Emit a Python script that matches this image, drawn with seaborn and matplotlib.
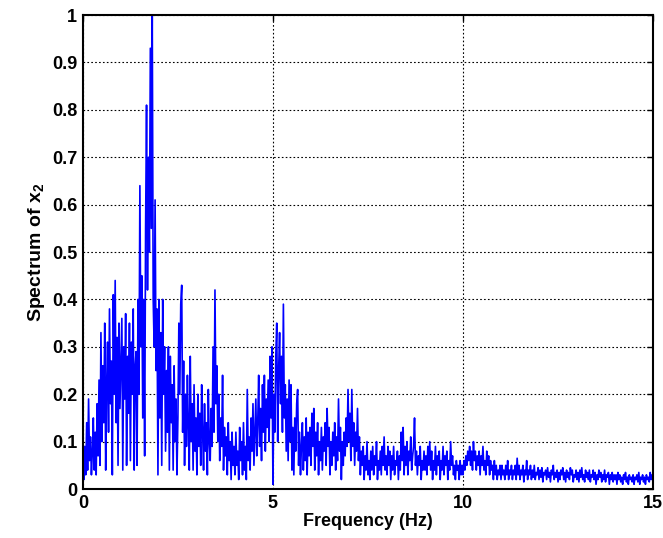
import matplotlib
matplotlib.use("Agg")
import matplotlib.pyplot as plt
import numpy as np
import pandas as pd
import seaborn as sns

# spectrum magnitude, one list per 1 Hz band, bins every 0.025 Hz
FREQ_STEP = 0.025
band_00 = [0.05, 0.02, 0.09, 0.03, 0.14, 0.04, 0.19, 0.06, 0.11, 0.03, 0.08, 0.15, 0.04, 0.12, 0.03, 0.18, 0.07, 0.23, 0.05, 0.33,
           0.10, 0.26, 0.14, 0.35, 0.04, 0.22, 0.31, 0.12, 0.38, 0.18, 0.27, 0.03, 0.41, 0.20, 0.44, 0.14, 0.32, 0.05, 0.35, 0.17]
band_01 = [0.26, 0.36, 0.04, 0.30, 0.19, 0.37, 0.05, 0.28, 0.16, 0.35, 0.06, 0.31, 0.20, 0.38, 0.04, 0.26, 0.29, 0.05, 0.40, 0.20,
           0.64, 0.30, 0.45, 0.15, 0.40, 0.07, 0.55, 0.81, 0.42, 0.70, 0.50, 0.93, 0.55, 1.00, 0.40, 0.30, 0.61, 0.25, 0.38, 0.03]
band_02 = [0.40, 0.15, 0.33, 0.05, 0.40, 0.20, 0.30, 0.08, 0.25, 0.12, 0.30, 0.04, 0.28, 0.14, 0.22, 0.04, 0.26, 0.10, 0.19, 0.03,
           0.15, 0.35, 0.20, 0.39, 0.43, 0.12, 0.27, 0.05, 0.20, 0.09, 0.24, 0.13, 0.04, 0.28, 0.10, 0.18, 0.04, 0.22, 0.08, 0.15]
band_03 = [0.03, 0.20, 0.09, 0.16, 0.05, 0.22, 0.12, 0.04, 0.18, 0.08, 0.14, 0.03, 0.21, 0.10, 0.06, 0.17, 0.09, 0.30, 0.12, 0.42,
           0.18, 0.26, 0.10, 0.20, 0.06, 0.15, 0.09, 0.24, 0.04, 0.13, 0.07, 0.11, 0.03, 0.14, 0.06, 0.10, 0.02, 0.12, 0.05, 0.09]
band_04 = [0.03, 0.12, 0.05, 0.08, 0.02, 0.13, 0.06, 0.10, 0.03, 0.14, 0.04, 0.09, 0.02, 0.21, 0.06, 0.11, 0.04, 0.15, 0.08, 0.18,
           0.05, 0.12, 0.19, 0.07, 0.14, 0.24, 0.09, 0.17, 0.06, 0.22, 0.12, 0.24, 0.08, 0.19, 0.13, 0.23, 0.10, 0.28, 0.15, 0.30]
band_05 = [0.01, 0.20, 0.12, 0.28, 0.35, 0.10, 0.25, 0.33, 0.18, 0.28, 0.12, 0.39, 0.15, 0.22, 0.08, 0.19, 0.06, 0.23, 0.10, 0.22,
           0.04, 0.13, 0.03, 0.15, 0.08, 0.18, 0.21, 0.05, 0.12, 0.03, 0.09, 0.14, 0.04, 0.11, 0.06, 0.15, 0.03, 0.12, 0.07, 0.13]
band_06 = [0.05, 0.16, 0.09, 0.17, 0.04, 0.12, 0.07, 0.14, 0.03, 0.10, 0.06, 0.13, 0.04, 0.11, 0.08, 0.14, 0.05, 0.17, 0.09, 0.13,
           0.03, 0.10, 0.05, 0.12, 0.07, 0.14, 0.04, 0.11, 0.06, 0.19, 0.08, 0.13, 0.02, 0.10, 0.05, 0.12, 0.07, 0.15, 0.09, 0.21]
band_07 = [0.10, 0.16, 0.06, 0.21, 0.09, 0.14, 0.05, 0.12, 0.08, 0.17, 0.06, 0.11, 0.03, 0.08, 0.05, 0.09, 0.02, 0.07, 0.04, 0.10,
           0.03, 0.06, 0.02, 0.08, 0.04, 0.09, 0.03, 0.07, 0.05, 0.10, 0.02, 0.06, 0.04, 0.08, 0.03, 0.09, 0.05, 0.11, 0.04, 0.07]
band_08 = [0.03, 0.09, 0.05, 0.08, 0.02, 0.07, 0.04, 0.09, 0.03, 0.06, 0.05, 0.08, 0.02, 0.07, 0.04, 0.12, 0.06, 0.13, 0.03, 0.09,
           0.05, 0.10, 0.03, 0.08, 0.06, 0.11, 0.04, 0.07, 0.09, 0.15, 0.05, 0.08, 0.03, 0.07, 0.05, 0.09, 0.02, 0.06, 0.04, 0.08]
band_09 = [0.04, 0.07, 0.03, 0.09, 0.05, 0.10, 0.04, 0.08, 0.02, 0.06, 0.04, 0.09, 0.03, 0.07, 0.05, 0.08, 0.02, 0.06, 0.04, 0.09,
           0.03, 0.07, 0.05, 0.08, 0.02, 0.06, 0.04, 0.10, 0.05, 0.07, 0.03, 0.05, 0.02, 0.06, 0.04, 0.05, 0.02, 0.06, 0.03, 0.05]
band_10 = [0.03, 0.06, 0.04, 0.07, 0.05, 0.08, 0.06, 0.09, 0.05, 0.08, 0.04, 0.10, 0.06, 0.08, 0.04, 0.07, 0.05, 0.08, 0.03, 0.07,
           0.05, 0.09, 0.04, 0.06, 0.03, 0.08, 0.05, 0.07, 0.03, 0.06, 0.04, 0.05, 0.02, 0.06, 0.03, 0.05, 0.02, 0.04, 0.03, 0.05]
band_11 = [0.02, 0.05, 0.03, 0.04, 0.02, 0.05, 0.03, 0.06, 0.02, 0.04, 0.03, 0.05, 0.02, 0.04, 0.03, 0.05, 0.02, 0.065, 0.03, 0.05,
           0.02, 0.04, 0.03, 0.05, 0.015, 0.04, 0.03, 0.06, 0.02, 0.04, 0.03, 0.05, 0.02, 0.04, 0.025, 0.05, 0.02, 0.035, 0.03, 0.045]
band_12 = [0.02, 0.04, 0.025, 0.045, 0.015, 0.035, 0.03, 0.04, 0.02, 0.045, 0.025, 0.035, 0.015, 0.04, 0.03, 0.05, 0.02, 0.035, 0.025, 0.04,
           0.015, 0.035, 0.02, 0.04, 0.03, 0.045, 0.02, 0.035, 0.015, 0.04, 0.025, 0.035, 0.02, 0.045, 0.03, 0.04, 0.015, 0.03, 0.025, 0.04]
band_13 = [0.02, 0.035, 0.015, 0.04, 0.025, 0.045, 0.02, 0.03, 0.015, 0.04, 0.025, 0.035, 0.02, 0.04, 0.015, 0.03, 0.025, 0.04, 0.02, 0.035,
           0.01, 0.03, 0.02, 0.04, 0.025, 0.035, 0.015, 0.03, 0.02, 0.04, 0.015, 0.03, 0.025, 0.035, 0.01, 0.03, 0.02, 0.035, 0.015, 0.03]
band_14 = [0.02, 0.03, 0.01, 0.035, 0.02, 0.03, 0.015, 0.025, 0.01, 0.03, 0.02, 0.035, 0.015, 0.025, 0.01, 0.03, 0.02, 0.025, 0.015, 0.03,
           0.01, 0.025, 0.02, 0.03, 0.015, 0.035, 0.01, 0.025, 0.02, 0.03, 0.015, 0.025, 0.01, 0.03, 0.02, 0.025, 0.015, 0.035, 0.02, 0.03]
last_bin = [0.02]

x_ticks = [0, 5, 10, 15]
y_ticks = [0, 0.1, 0.2, 0.3, 0.4, 0.5, 0.6, 0.7, 0.8, 0.9, 1]
y_tick_labels = ["0", "0.1", "0.2", "0.3", "0.4", "0.5", "0.6", "0.7", "0.8", "0.9", "1"]

bands = [band_00, band_01, band_02, band_03, band_04, band_05, band_06, band_07,
         band_08, band_09, band_10, band_11, band_12, band_13, band_14, last_bin]
spectrum = np.concatenate(bands)
freq = np.arange(len(spectrum)) * FREQ_STEP
df = pd.DataFrame({"freq": freq, "spectrum": spectrum})

sns.set_theme(style="white")
plt.rcParams["font.family"] = ["Liberation Sans", "DejaVu Sans"]
plt.rcParams["font.weight"] = "bold"
plt.rcParams["mathtext.fontset"] = "custom"
plt.rcParams["mathtext.bf"] = "Liberation Sans:bold"
plt.rcParams["mathtext.rm"] = "Liberation Sans:bold"
plt.rcParams["mathtext.default"] = "bf"

fig = plt.figure(figsize=(6.63, 5.38), dpi=100)
ax = fig.add_axes([0.125, 0.091, 0.86, 0.881])
sns.lineplot(data=df, x="freq", y="spectrum", ax=ax, color="#0000ff",
             linewidth=1.2, estimator=None, sort=False)

ax.set_xlim(0, 15)
ax.set_ylim(0, 1)
ax.set_xticks(x_ticks)
ax.set_xticklabels([str(t) for t in x_ticks])
ax.set_yticks(y_ticks)
ax.set_yticklabels(y_tick_labels)
ax.tick_params(direction="in", length=4, width=1, top=True, right=True,
               labelsize=13, colors="black", pad=4)
for lab in ax.get_xticklabels() + ax.get_yticklabels():
    lab.set_fontweight("bold")

ax.grid(True, color="black", linestyle=(0, (1.5, 2)), linewidth=0.8)
for side in ax.spines.values():
    side.set_visible(True)
    side.set_color("black")
    side.set_linewidth(1.5)

ax.set_xlabel("Frequency (Hz)", fontsize=13, fontweight="bold", color="black", labelpad=1)
ax.set_ylabel(r"Spectrum of x$_{2}$", fontsize=14, fontweight="bold", color="black", labelpad=4)

fig.savefig("out.png", dpi=100)
